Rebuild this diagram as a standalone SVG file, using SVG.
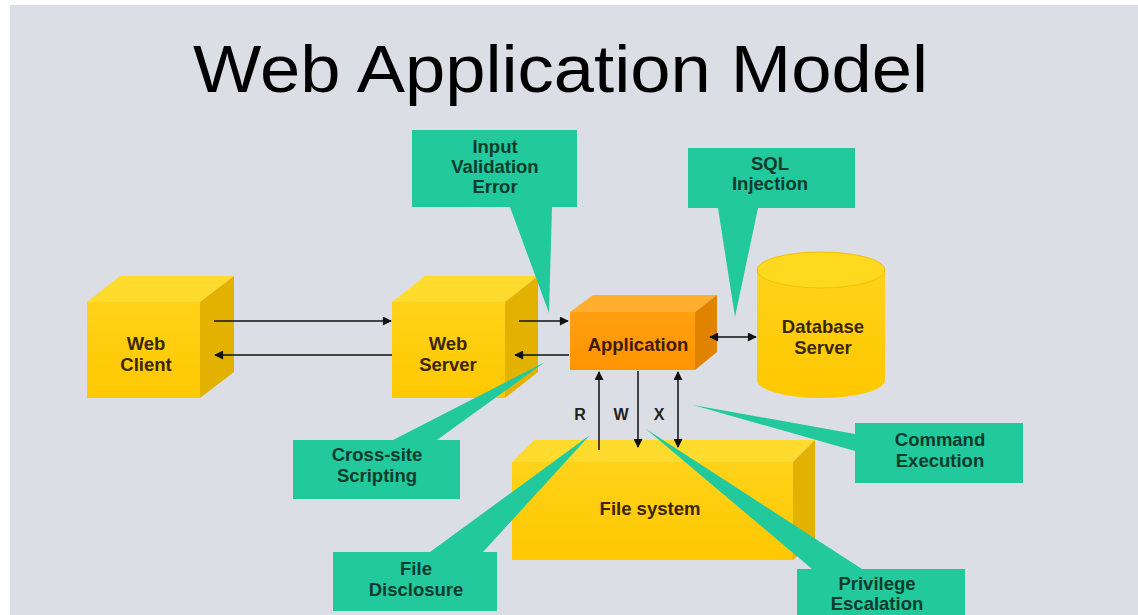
<svg xmlns="http://www.w3.org/2000/svg" width="1138" height="615" viewBox="0 0 1138 615">
<defs>
<style>
.t{font-family:"Liberation Sans",Arial,sans-serif;font-weight:bold;font-size:18.5px;text-anchor:middle}
.box{fill:#3a2600}
.cal{fill:#0e3b2c}
.co{fill:#22c99c}
.front{fill:url(#gy)}
.top{fill:#ffdb2e}
.side{fill:#e3b200}
.ofront{fill:url(#go)}
.otop{fill:#ffae30}
.oside{fill:#e08400}
.ln{stroke:#111;stroke-width:1.5;fill:none}
</style>
<linearGradient id="gy" x1="0" y1="0" x2="0" y2="1"><stop offset="0" stop-color="#ffd21a"/><stop offset="1" stop-color="#ffc800"/></linearGradient>
<linearGradient id="go" x1="0" y1="0" x2="0" y2="1"><stop offset="0" stop-color="#ffa012"/><stop offset="1" stop-color="#ff9400"/></linearGradient>
<marker id="ah" viewBox="0 0 10 10" refX="9" refY="5" markerWidth="10" markerHeight="9" orient="auto-start-reverse" markerUnits="userSpaceOnUse"><path d="M0,0 L10,5 L0,10 Z" fill="#111"/></marker>
</defs>
<rect x="0" y="0" width="1138" height="615" fill="#ffffff"/>
<rect x="10" y="5" width="1128" height="610" fill="#dcdee6"/>
<text x="193" y="92" font-family="'Liberation Sans',Arial,sans-serif" font-size="66" textLength="735" lengthAdjust="spacingAndGlyphs" fill="#000">Web Application Model</text>

<g id="web-client">
<polygon class="top" points="87,302 120,276 234,276 200,302"/>
<polygon class="side" points="200,302 234,276 234,372 200,398"/>
<rect class="front" x="87" y="302" width="113" height="96"/>
<text class="t box" x="146" y="350">Web</text>
<text class="t box" x="146" y="371">Client</text>
</g>
<g id="web-server">
<polygon class="top" points="392,302 425,276 538,276 505,302"/>
<polygon class="side" points="505,302 538,276 538,372 505,398"/>
<rect class="front" x="392" y="302" width="113" height="96"/>
<text class="t box" x="448" y="350">Web</text>
<text class="t box" x="448" y="371">Server</text>
</g>
<g id="application">
<polygon class="otop" points="570,312 593,295 717,295 695,312"/>
<polygon class="oside" points="695,312 717,295 717,352 695,370"/>
<rect class="ofront" x="570" y="312" width="125" height="58"/>
<text class="t" fill="#3d1a00" x="638" y="351">Application</text>
</g>
<g id="database-server">
<path class="front" d="M757,270 V380 A64,18 0 0 0 885,380 V270 Z"/>
<ellipse cx="821" cy="270" rx="64" ry="18" fill="#ffd820" stroke="#f2c200" stroke-width="1"/>
<text class="t box" x="823" y="333">Database</text>
<text class="t box" x="823" y="354">Server</text>
</g>
<g id="file-system">
<polygon class="top" points="512,462 534,440 815,440 793,462"/>
<polygon class="side" points="793,462 815,440 815,538 793,560"/>
<rect class="front" x="512" y="462" width="281" height="98"/>
<text class="t box" x="650" y="515">File system</text>
</g>

<g id="connectors">
<line class="ln" x1="214" y1="321" x2="391" y2="321" marker-end="url(#ah)"/>
<line class="ln" x1="392" y1="355" x2="215" y2="355" marker-end="url(#ah)"/>
<line class="ln" x1="519" y1="321" x2="568" y2="321" marker-end="url(#ah)"/>
<line class="ln" x1="569" y1="355" x2="515" y2="355" marker-end="url(#ah)"/>
<line class="ln" x1="710" y1="337" x2="756" y2="337" marker-start="url(#ah)" marker-end="url(#ah)"/>
<line class="ln" x1="599" y1="450" x2="599" y2="372" marker-end="url(#ah)"/>
<line class="ln" x1="638" y1="371" x2="638" y2="447" marker-end="url(#ah)"/>
<line class="ln" x1="678" y1="372" x2="678" y2="447" marker-start="url(#ah)" marker-end="url(#ah)"/>
<text class="t" fill="#222" x="580" y="420" style="font-size:16px">R</text>
<text class="t" fill="#222" x="621" y="420" style="font-size:16px">W</text>
<text class="t" fill="#222" x="659" y="420" style="font-size:16px">X</text>
</g>

<g id="callout-input-validation">
<path class="co" d="M412,130 H577 V207 H552 L549,313 L510,207 H412 Z"/>
<text class="t cal" x="495" y="153">Input</text>
<text class="t cal" x="495" y="173">Validation</text>
<text class="t cal" x="495" y="193">Error</text>
</g>
<g id="callout-sql-injection">
<path class="co" d="M688,148 H855 V208 H758 L735,317 L718,208 H688 Z"/>
<text class="t cal" x="770" y="170">SQL</text>
<text class="t cal" x="770" y="190">Injection</text>
</g>
<g id="callout-cross-site">
<path class="co" d="M293,440 H393 L545,362 L437,440 H460 V499 H293 Z"/>
<text class="t cal" x="377" y="461">Cross-site</text>
<text class="t cal" x="377" y="482">Scripting</text>
</g>
<g id="callout-file-disclosure">
<path class="co" d="M333,552 H430 L590,435 L483,552 H497 V611 H333 Z"/>
<text class="t cal" x="416" y="575">File</text>
<text class="t cal" x="416" y="596">Disclosure</text>
</g>
<g id="callout-privilege">
<path class="co" d="M797,569 H812 L646,429 L862,569 H965 V620 H797 Z"/>
<text class="t cal" x="877" y="590">Privilege</text>
<text class="t cal" x="877" y="610">Escalation</text>
</g>
<g id="callout-command">
<path class="co" d="M855,423 H1023 V483 H855 V451 L693,405 L855,434 Z"/>
<text class="t cal" x="940" y="446">Command</text>
<text class="t cal" x="940" y="467">Execution</text>
</g>
</svg>
